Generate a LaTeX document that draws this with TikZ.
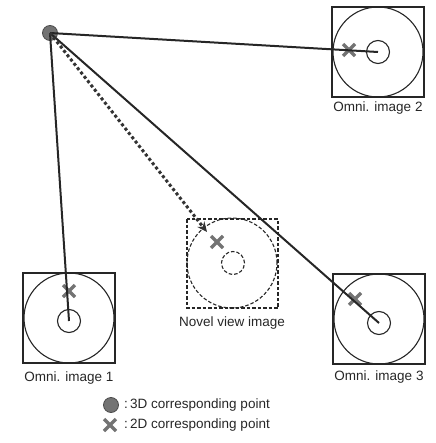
\documentclass[tikz,border=0pt]{standalone}
\usepackage{fontspec}
\setmainfont{Liberation Sans}
\usetikzlibrary{arrows.meta}
\newcommand\lblfont{\fontsize{13.5pt}{16pt}\selectfont}
\begin{document}
\begin{tikzpicture}[x=1pt,y=-1pt,
  frame/.style={draw=black!85,line width=1.1pt},
  dframe/.style={draw=black!85,line width=1.1pt,dash pattern=on 3.5pt off 2pt},
  ray/.style={draw=black!85,line width=2pt},
  lbl/.style={font=\lblfont,text=black!85,inner sep=0pt},
  xmark/.style={draw=black!55,line width=3.2pt},
  pt3d/.style={circle,fill=black!55,draw=black!70,line width=0.8pt,minimum size=15pt,inner sep=0pt}]
\useasboundingbox (0,0) rectangle (435,443);
% omni images
\foreach \n/\cx/\cy/\sy in {1/69/318/321,2/378/52/52,3/379/319/323}{
  \draw[frame] (\cx-46,\cy-45) rectangle (\cx+46,\cy+45);
  \draw[frame] (\cx,\cy) circle[radius=45pt];
  \draw[frame] (\cx,\sy) circle[radius=11.5pt];
  \coordinate (c\n) at (\cx,\sy);
}
\node[lbl] (l1) at (69,378) {Omni. image 1};
\node[lbl] (l2) at (378,108) {Omni. image 2};
\node[lbl] (l3) at (379,377) {Omni. image 3};
% novel view
\draw[dframe] (187,219) rectangle (278,308);
\draw[dframe] (232,263) circle[radius=45pt];
\draw[dframe] (233,263) circle[radius=11.5pt];
\node[lbl] (l4) at (232,323) {Novel view image};
\coordinate (nv) at (207,232);
% X marks
\foreach \x/\y in {69/291,349/50,355/299,217/242}{
  \draw[xmark] (\x-6,\y-6) -- (\x+6,\y+6) (\x-6,\y+6) -- (\x+6,\y-6);
}
% rays
\node[pt3d] (P) at (50,33) {};
\draw[ray] (P.center) -- (c1);
\draw[ray] (P.center) -- (c2);
\draw[ray] (P.center) -- (c3);
\draw[draw=black!80,line width=3pt,dash pattern=on 3pt off 2.5pt,-{Stealth[length=10pt,width=9pt]}] (P.center) -- (nv);
% legend
\node[pt3d] (lp) at (111,405) {};
\draw[xmark] (104,419) -- (116,431) (104,431) -- (116,419);
\node[lbl,anchor=west] (t1) at (124,405) {:\,3D corresponding point};
\node[lbl,anchor=west] (t2) at (124,425) {:\,2D corresponding point};
\end{tikzpicture}
\end{document}
